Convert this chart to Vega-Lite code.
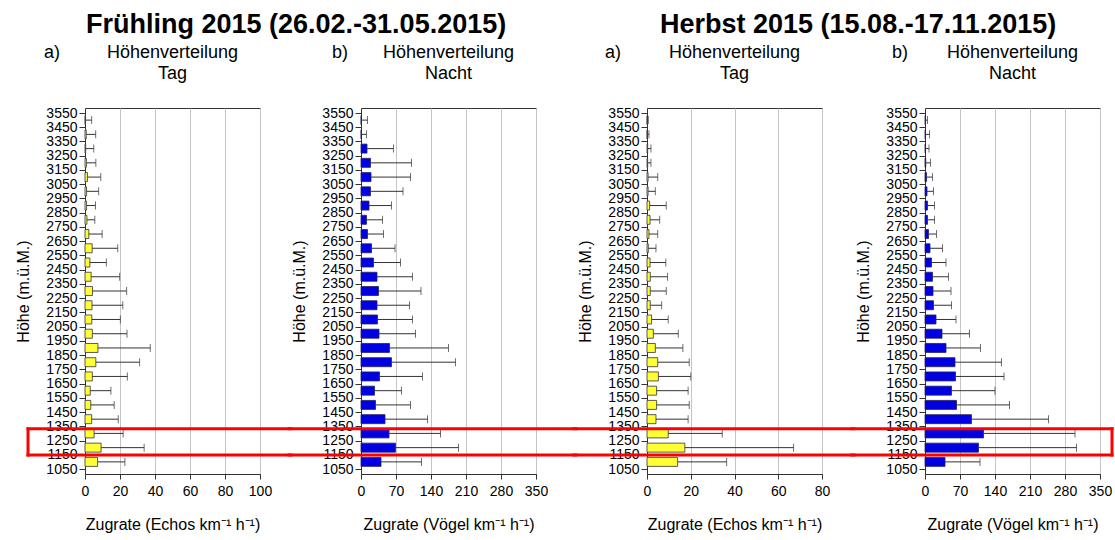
{
  "$schema": "https://vega.github.io/schema/vega-lite/v6.json",
  "background": "white",
  "padding": {"left": 15, "top": 10, "right": 0, "bottom": 0},
  "config": {
    "font": "Liberation Sans",
    "view": {"stroke": "#333333", "strokeWidth": 1},
    "axis": {
      "labelFont": "Liberation Sans", "labelFontSize": 14, "labelColor": "#000000",
      "titleFont": "Liberation Sans", "titleFontSize": 16, "titleFontWeight": "normal", "titleColor": "#000000",
      "tickColor": "#333333", "domainColor": "#333333", "gridColor": "#c4c4c4", "gridWidth": 1,
      "labelFlush": false, "labelOverlap": false, "tickCount": 40
    },
    "title": {"font": "Liberation Sans", "color": "#000000", "fontWeight": "normal"}
  },
  "datasets": {
    "band": [{"von": 1148, "bis": 1333}],
    "fT": [
      {"h": 1100, "v": 7.2, "hi": 22.8}, {"h": 1200, "v": 9.2, "hi": 33.8}, {"h": 1300, "v": 5.2, "hi": 21.8},
      {"h": 1400, "v": 3.8, "hi": 19}, {"h": 1500, "v": 3.3, "hi": 16.7}, {"h": 1600, "v": 3, "hi": 14.8},
      {"h": 1700, "v": 4.2, "hi": 24.2}, {"h": 1800, "v": 6.2, "hi": 31.2}, {"h": 1900, "v": 7.4, "hi": 37.3},
      {"h": 2000, "v": 4.2, "hi": 24}, {"h": 2100, "v": 3.9, "hi": 20.2}, {"h": 2200, "v": 4, "hi": 21.6},
      {"h": 2300, "v": 4.3, "hi": 23.8}, {"h": 2400, "v": 3.5, "hi": 19.8}, {"h": 2500, "v": 2.8, "hi": 12.2},
      {"h": 2600, "v": 4.1, "hi": 18.7}, {"h": 2700, "v": 2.2, "hi": 9.8}, {"h": 2800, "v": 1.1, "hi": 5.6},
      {"h": 2900, "v": 0.9, "hi": 6}, {"h": 3000, "v": 0.9, "hi": 7.8}, {"h": 3100, "v": 1.4, "hi": 9},
      {"h": 3200, "v": 0.8, "hi": 6.2}, {"h": 3300, "v": 0.4, "hi": 5}, {"h": 3400, "v": 0.7, "hi": 6.1},
      {"h": 3500, "v": 0.2, "hi": 3.8}
    ],
    "fN": [
      {"h": 1100, "v": 40, "hi": 121}, {"h": 1200, "v": 69, "hi": 195}, {"h": 1300, "v": 56, "hi": 159},
      {"h": 1400, "v": 48, "hi": 133}, {"h": 1500, "v": 29, "hi": 99}, {"h": 1600, "v": 27, "hi": 81},
      {"h": 1700, "v": 37, "hi": 123}, {"h": 1800, "v": 61, "hi": 189}, {"h": 1900, "v": 57, "hi": 175},
      {"h": 2000, "v": 36, "hi": 109}, {"h": 2100, "v": 33, "hi": 103}, {"h": 2200, "v": 32, "hi": 97},
      {"h": 2300, "v": 35, "hi": 120}, {"h": 2400, "v": 32, "hi": 103}, {"h": 2500, "v": 25, "hi": 79},
      {"h": 2600, "v": 21, "hi": 68}, {"h": 2700, "v": 13, "hi": 45}, {"h": 2800, "v": 11, "hi": 43},
      {"h": 2900, "v": 16, "hi": 61}, {"h": 3000, "v": 19, "hi": 84}, {"h": 3100, "v": 20, "hi": 99},
      {"h": 3200, "v": 19, "hi": 101}, {"h": 3300, "v": 12, "hi": 65}, {"h": 3400, "v": 0.5, "hi": 11},
      {"h": 3500, "v": 0.5, "hi": 13}
    ],
    "hT": [
      {"h": 1100, "v": 14, "hi": 36.4}, {"h": 1200, "v": 17.3, "hi": 67}, {"h": 1300, "v": 9.7, "hi": 34.4},
      {"h": 1400, "v": 4.1, "hi": 18.8}, {"h": 1500, "v": 4.4, "hi": 19.3}, {"h": 1600, "v": 4.4, "hi": 18.8},
      {"h": 1700, "v": 5.2, "hi": 20}, {"h": 1800, "v": 4.9, "hi": 19.3}, {"h": 1900, "v": 3.8, "hi": 16.4},
      {"h": 2000, "v": 2.9, "hi": 14.3}, {"h": 2100, "v": 2.1, "hi": 9.7}, {"h": 2200, "v": 1.5, "hi": 6.7},
      {"h": 2300, "v": 1.5, "hi": 8.8}, {"h": 2400, "v": 1.5, "hi": 9.4}, {"h": 2500, "v": 1.4, "hi": 8.6},
      {"h": 2600, "v": 0.6, "hi": 4.1}, {"h": 2700, "v": 0.9, "hi": 4.9}, {"h": 2800, "v": 1.4, "hi": 5.8},
      {"h": 2900, "v": 1.2, "hi": 8.8}, {"h": 3000, "v": 0.5, "hi": 3.8}, {"h": 3100, "v": 0.5, "hi": 4.9},
      {"h": 3200, "v": 0.3, "hi": 1.8}, {"h": 3300, "v": 0.3, "hi": 1.8}, {"h": 3400, "v": 0.1, "hi": 0.9},
      {"h": 3500, "v": 0.1, "hi": 0.6}
    ],
    "hN": [
      {"h": 1100, "v": 40, "hi": 110}, {"h": 1200, "v": 107, "hi": 303}, {"h": 1300, "v": 117, "hi": 300},
      {"h": 1400, "v": 93, "hi": 247}, {"h": 1500, "v": 63, "hi": 169}, {"h": 1600, "v": 53, "hi": 140},
      {"h": 1700, "v": 61, "hi": 158}, {"h": 1800, "v": 60, "hi": 153}, {"h": 1900, "v": 42, "hi": 111},
      {"h": 2000, "v": 34, "hi": 89}, {"h": 2100, "v": 22, "hi": 62}, {"h": 2200, "v": 17, "hi": 53},
      {"h": 2300, "v": 16, "hi": 52}, {"h": 2400, "v": 15, "hi": 47}, {"h": 2500, "v": 13, "hi": 42},
      {"h": 2600, "v": 10, "hi": 35}, {"h": 2700, "v": 7, "hi": 23}, {"h": 2800, "v": 5, "hi": 19},
      {"h": 2900, "v": 5, "hi": 19}, {"h": 3000, "v": 4, "hi": 17}, {"h": 3100, "v": 3, "hi": 15},
      {"h": 3200, "v": 1.5, "hi": 11}, {"h": 3300, "v": 1, "hi": 8}, {"h": 3400, "v": 1, "hi": 9},
      {"h": 3500, "v": 1, "hi": 5}
    ]
  },
  "spacing": -8,
  "hconcat": [
    {
      "title": {"text": "Frühling 2015 (26.02.-31.05.2015)", "anchor": "start", "frame": "group", "fontSize": 27, "fontWeight": "bold", "dx": 1, "offset": 5},
      "spacing": -8,
      "hconcat": [
        {
          "title": {"text": "a)", "anchor": "start", "frame": "group", "fontSize": 18, "dx": -41, "dy": 18, "offset": 0},
          "vconcat": [
            {
              "width": 175, "height": 366,
              "title": {"text": ["Höhenverteilung", "Tag"], "anchor": "middle", "frame": "group", "fontSize": 18, "lineHeight": 21, "offset": 23},
              "data": {"name": "fT"},
              "layer": [
                {"mark": {"type": "bar", "orient": "horizontal", "size": 9, "fill": "#ffff33", "stroke": "#333333", "strokeWidth": 0.8},
                 "encoding": {
                   "y": {"field": "h", "type": "quantitative", "scale": {"domain": [1050, 3550], "nice": false, "zero": false},
                         "axis": {"values": [1050,1150,1250,1350,1450,1550,1650,1750,1850,1950,2050,2150,2250,2350,2450,2550,2650,2750,2850,2950,3050,3150,3250,3350,3450,3550], "tickCount": 40, "format": "d", "labelOverlap": false, "labelFlush": false, "title": "Höhe (m.ü.M.)", "grid": false, "tickSize": 6, "labelPadding": 2, "titlePadding": 14}},
                   "x": {"field": "v", "type": "quantitative", "scale": {"domain": [0, 100], "nice": false},
                         "axis": {"values": [0, 20, 40, 60, 80, 100], "tickCount": 40, "format": "d", "labelOverlap": false, "labelFlush": false, "title": "Zugrate (Echos km⁻¹ h⁻¹)", "grid": true, "tickSize": 5, "labelPadding": 5, "titlePadding": 18}}
                 }},
                {"mark": {"type": "rule", "stroke": "#333333", "strokeWidth": 1},
                 "encoding": {"y": {"field": "h", "type": "quantitative"}, "x": {"field": "v", "type": "quantitative"}, "x2": {"field": "hi"}}},
                {"mark": {"type": "tick", "orient": "vertical", "size": 8, "thickness": 1, "color": "#333333"},
                 "encoding": {"y": {"field": "h", "type": "quantitative"}, "x": {"field": "hi", "type": "quantitative"}}},
                {"data": {"name": "band"}, "mark": {"type": "rule", "stroke": "#ff0000", "strokeWidth": 3, "strokeCap": "square"},
                 "encoding": {"y": {"field": "von", "type": "quantitative"}, "x": {"datum": -32.57, "type": "quantitative"}, "x2": {"datum": 117.71}}},
                {"data": {"name": "band"}, "mark": {"type": "rule", "stroke": "#ff0000", "strokeWidth": 3, "strokeCap": "square"},
                 "encoding": {"y": {"field": "bis", "type": "quantitative"}, "x": {"datum": -32.57, "type": "quantitative"}, "x2": {"datum": 117.71}}},
                {"data": {"name": "band"}, "mark": {"type": "rule", "stroke": "#ff0000", "strokeWidth": 3, "strokeCap": "square"},
                 "encoding": {"y": {"field": "von", "type": "quantitative"}, "y2": {"field": "bis"}, "x": {"datum": -32.57, "type": "quantitative"}}}
              ]
            }
          ]
        },
        {
          "title": {"text": "b)", "anchor": "start", "frame": "group", "fontSize": 18, "dx": -29, "dy": 18, "offset": 0},
          "vconcat": [
            {
              "width": 175, "height": 366,
              "title": {"text": ["Höhenverteilung", "Nacht"], "anchor": "middle", "frame": "group", "fontSize": 18, "lineHeight": 21, "offset": 23},
              "data": {"name": "fN"},
              "layer": [
                {"mark": {"type": "bar", "orient": "horizontal", "size": 9, "fill": "#0000e0", "stroke": "#222266", "strokeWidth": 0.8},
                 "encoding": {
                   "y": {"field": "h", "type": "quantitative", "scale": {"domain": [1050, 3550], "nice": false, "zero": false},
                         "axis": {"values": [1050,1150,1250,1350,1450,1550,1650,1750,1850,1950,2050,2150,2250,2350,2450,2550,2650,2750,2850,2950,3050,3150,3250,3350,3450,3550], "tickCount": 40, "format": "d", "labelOverlap": false, "labelFlush": false, "title": "Höhe (m.ü.M.)", "grid": false, "tickSize": 6, "labelPadding": 2, "titlePadding": 14}},
                   "x": {"field": "v", "type": "quantitative", "scale": {"domain": [0, 350], "nice": false},
                         "axis": {"values": [0, 70, 140, 210, 280, 350], "tickCount": 40, "format": "d", "labelOverlap": false, "labelFlush": false, "title": "Zugrate (Vögel km⁻¹ h⁻¹)", "grid": true, "tickSize": 5, "labelPadding": 5, "titlePadding": 18}}
                 }},
                {"mark": {"type": "rule", "stroke": "#333333", "strokeWidth": 1},
                 "encoding": {"y": {"field": "h", "type": "quantitative"}, "x": {"field": "v", "type": "quantitative"}, "x2": {"field": "hi"}}},
                {"mark": {"type": "tick", "orient": "vertical", "size": 8, "thickness": 1, "color": "#333333"},
                 "encoding": {"y": {"field": "h", "type": "quantitative"}, "x": {"field": "hi", "type": "quantitative"}}},
                {"data": {"name": "band"}, "mark": {"type": "rule", "stroke": "#ff0000", "strokeWidth": 3, "strokeCap": "square"},
                 "encoding": {"y": {"field": "von", "type": "quantitative"}, "x": {"datum": -144, "type": "quantitative"}, "x2": {"datum": 430}}},
                {"data": {"name": "band"}, "mark": {"type": "rule", "stroke": "#ff0000", "strokeWidth": 3, "strokeCap": "square"},
                 "encoding": {"y": {"field": "bis", "type": "quantitative"}, "x": {"datum": -144, "type": "quantitative"}, "x2": {"datum": 430}}}
              ]
            }
          ]
        }
      ]
    },
    {
      "title": {"text": "Herbst 2015 (15.08.-17.11.2015)", "anchor": "start", "frame": "group", "fontSize": 27, "fontWeight": "bold", "dx": 13, "offset": 5},
      "spacing": -8,
      "hconcat": [
        {
          "title": {"text": "a)", "anchor": "start", "frame": "group", "fontSize": 18, "dx": -42, "dy": 18, "offset": 0},
          "vconcat": [
            {
              "width": 175, "height": 366,
              "title": {"text": ["Höhenverteilung", "Tag"], "anchor": "middle", "frame": "group", "fontSize": 18, "lineHeight": 21, "offset": 23},
              "data": {"name": "hT"},
              "layer": [
                {"mark": {"type": "bar", "orient": "horizontal", "size": 9, "fill": "#ffff33", "stroke": "#333333", "strokeWidth": 0.8},
                 "encoding": {
                   "y": {"field": "h", "type": "quantitative", "scale": {"domain": [1050, 3550], "nice": false, "zero": false},
                         "axis": {"values": [1050,1150,1250,1350,1450,1550,1650,1750,1850,1950,2050,2150,2250,2350,2450,2550,2650,2750,2850,2950,3050,3150,3250,3350,3450,3550], "tickCount": 40, "format": "d", "labelOverlap": false, "labelFlush": false, "title": "Höhe (m.ü.M.)", "grid": false, "tickSize": 6, "labelPadding": 2, "titlePadding": 14}},
                   "x": {"field": "v", "type": "quantitative", "scale": {"domain": [0, 80], "nice": false},
                         "axis": {"values": [0, 20, 40, 60, 80], "tickCount": 40, "format": "d", "labelOverlap": false, "labelFlush": false, "title": "Zugrate (Echos km⁻¹ h⁻¹)", "grid": true, "tickSize": 5, "labelPadding": 5, "titlePadding": 18}}
                 }},
                {"mark": {"type": "rule", "stroke": "#333333", "strokeWidth": 1},
                 "encoding": {"y": {"field": "h", "type": "quantitative"}, "x": {"field": "v", "type": "quantitative"}, "x2": {"field": "hi"}}},
                {"mark": {"type": "tick", "orient": "vertical", "size": 8, "thickness": 1, "color": "#333333"},
                 "encoding": {"y": {"field": "h", "type": "quantitative"}, "x": {"field": "hi", "type": "quantitative"}}},
                {"data": {"name": "band"}, "mark": {"type": "rule", "stroke": "#ff0000", "strokeWidth": 3, "strokeCap": "square"},
                 "encoding": {"y": {"field": "von", "type": "quantitative"}, "x": {"datum": -33.37, "type": "quantitative"}, "x2": {"datum": 94.62}}},
                {"data": {"name": "band"}, "mark": {"type": "rule", "stroke": "#ff0000", "strokeWidth": 3, "strokeCap": "square"},
                 "encoding": {"y": {"field": "bis", "type": "quantitative"}, "x": {"datum": -33.37, "type": "quantitative"}, "x2": {"datum": 94.62}}}
              ]
            }
          ]
        },
        {
          "title": {"text": "b)", "anchor": "start", "frame": "group", "fontSize": 18, "dx": -33, "dy": 18, "offset": 0},
          "vconcat": [
            {
              "width": 175, "height": 366,
              "title": {"text": ["Höhenverteilung", "Nacht"], "anchor": "middle", "frame": "group", "fontSize": 18, "lineHeight": 21, "offset": 23},
              "data": {"name": "hN"},
              "layer": [
                {"mark": {"type": "bar", "orient": "horizontal", "size": 9, "fill": "#0000e0", "stroke": "#222266", "strokeWidth": 0.8},
                 "encoding": {
                   "y": {"field": "h", "type": "quantitative", "scale": {"domain": [1050, 3550], "nice": false, "zero": false},
                         "axis": {"values": [1050,1150,1250,1350,1450,1550,1650,1750,1850,1950,2050,2150,2250,2350,2450,2550,2650,2750,2850,2950,3050,3150,3250,3350,3450,3550], "tickCount": 40, "format": "d", "labelOverlap": false, "labelFlush": false, "title": "Höhe (m.ü.M.)", "grid": false, "tickSize": 6, "labelPadding": 2, "titlePadding": 14}},
                   "x": {"field": "v", "type": "quantitative", "scale": {"domain": [0, 350], "nice": false},
                         "axis": {"values": [0, 70, 140, 210, 280, 350], "tickCount": 40, "format": "d", "labelOverlap": false, "labelFlush": false, "title": "Zugrate (Vögel km⁻¹ h⁻¹)", "grid": true, "tickSize": 5, "labelPadding": 5, "titlePadding": 18}}
                 }},
                {"mark": {"type": "rule", "stroke": "#333333", "strokeWidth": 1},
                 "encoding": {"y": {"field": "h", "type": "quantitative"}, "x": {"field": "v", "type": "quantitative"}, "x2": {"field": "hi"}}},
                {"mark": {"type": "tick", "orient": "vertical", "size": 8, "thickness": 1, "color": "#333333"},
                 "encoding": {"y": {"field": "h", "type": "quantitative"}, "x": {"field": "hi", "type": "quantitative"}}},
                {"data": {"name": "band"}, "mark": {"type": "rule", "stroke": "#ff0000", "strokeWidth": 3, "strokeCap": "square"},
                 "encoding": {"y": {"field": "von", "type": "quantitative"}, "x": {"datum": -146, "type": "quantitative"}, "x2": {"datum": 374}}},
                {"data": {"name": "band"}, "mark": {"type": "rule", "stroke": "#ff0000", "strokeWidth": 3, "strokeCap": "square"},
                 "encoding": {"y": {"field": "bis", "type": "quantitative"}, "x": {"datum": -146, "type": "quantitative"}, "x2": {"datum": 374}}},
                {"data": {"name": "band"}, "mark": {"type": "rule", "stroke": "#ff0000", "strokeWidth": 3, "strokeCap": "square"},
                 "encoding": {"y": {"field": "von", "type": "quantitative"}, "y2": {"field": "bis"}, "x": {"datum": 374, "type": "quantitative"}}}
              ]
            }
          ]
        }
      ]
    }
  ]
}
